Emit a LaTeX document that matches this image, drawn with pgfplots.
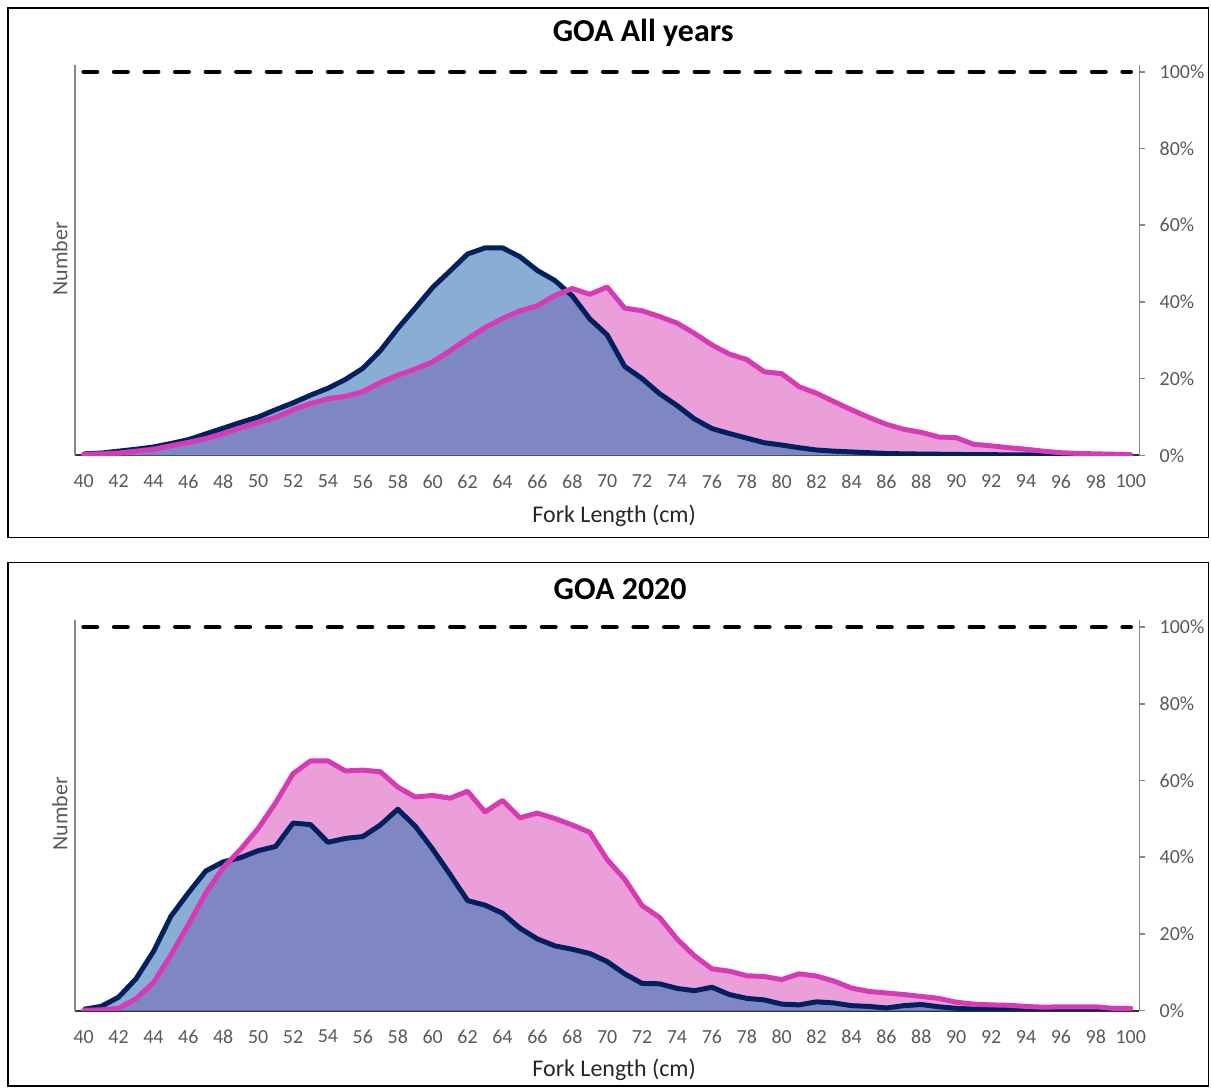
\documentclass[border=0pt]{standalone}
\usepackage{fontspec}
\setmainfont{Carlito}
\usepackage{pgfplots}
\usepackage{pgfplotstable}
\pgfplotsset{compat=1.18}
\usepgfplotslibrary{fillbetween}

\definecolor{navyL}{HTML}{002060}
\definecolor{magL}{HTML}{D63BB5}
\definecolor{blueA}{HTML}{8AADD3}
\definecolor{pinkA}{HTML}{EA9FD9}
\definecolor{ovA}{HTML}{7F86C4}
\definecolor{tickgray}{HTML}{595959}
\definecolor{axgray}{HTML}{868686}

\pgfplotstableread{
x n p
40 0.4 0.3
41 0.6 0.4
42 1.1 0.6
43 1.6 1.1
44 2.2 1.6
45 3.1 2.5
46 4.1 3.4
47 5.6 4.4
48 7.1 5.7
49 8.6 7.2
50 10.0 8.6
51 11.9 9.9
52 13.7 11.9
53 15.7 13.5
54 17.5 14.8
55 19.8 15.4
56 22.7 16.6
57 27.3 19.0
58 33.1 20.9
59 38.4 22.5
60 43.8 24.4
61 48.1 27.3
62 52.5 30.4
63 54.1 33.3
64 54.1 35.7
65 51.8 37.7
66 48.2 39.0
67 45.6 41.7
68 41.6 43.5
69 35.6 42.0
70 31.4 43.9
71 23.2 38.4
72 20.0 37.7
73 16.1 36.2
74 13.0 34.5
75 9.5 31.8
76 7.0 28.8
77 5.7 26.4
78 4.5 25.0
79 3.3 21.8
80 2.7 21.3
81 2.0 17.9
82 1.4 16.2
83 1.1 14.0
84 0.9 11.9
85 0.7 9.9
86 0.5 8.1
87 0.4 6.8
88 0.35 6.0
89 0.3 4.8
90 0.25 4.6
91 0.2 2.9
92 0.18 2.5
93 0.15 2.0
94 0.12 1.6
95 0.1 1.1
96 0.1 0.7
97 0.08 0.5
98 0.07 0.4
99 0.06 0.3
100 0.05 0.2
}\topdata

\pgfplotstableread{
x n p
40 0.35 0.1
41 1.1 0.2
42 3.5 0.6
43 8.3 3.1
44 15.4 7.3
45 24.6 14.5
46 30.7 22.4
47 36.4 30.7
48 38.8 37.3
49 39.9 42.1
50 41.7 47.5
51 42.8 54.2
52 48.9 61.8
53 48.5 65.1
54 43.9 65.1
55 44.9 62.5
56 45.4 62.7
57 48.4 62.3
58 52.5 58.3
59 48.1 55.7
60 42.1 56.1
61 35.5 55.4
62 28.7 57.2
63 27.5 51.8
64 25.4 54.8
65 21.5 50.3
66 18.7 51.5
67 16.9 50.1
68 16.0 48.4
69 14.9 46.5
70 12.8 39.4
71 9.6 34.3
72 7.1 27.4
73 7.0 24.3
74 5.8 18.7
75 5.2 14.3
76 6.1 10.9
77 4.2 10.3
78 3.2 9.1
79 2.8 8.9
80 1.7 8.1
81 1.5 9.6
82 2.3 9.0
83 2.0 7.7
84 1.3 5.9
85 1.1 5.0
86 0.7 4.6
87 1.3 4.2
88 1.6 3.7
89 1.0 3.2
90 0.6 2.2
91 0.4 1.7
92 0.3 1.5
93 0.3 1.4
94 0.2 1.1
95 0.2 0.9
96 0.05 1.0
97 0.05 1.0
98 0.05 1.0
99 0.1 0.6
100 0.2 0.6
}\botdata

\pgfplotsset{
  panel/.style={
    scale only axis, width=533pt, height=195.5pt,
    xmin=39.5, xmax=100.5, ymin=0, ymax=101.8,
    /pgf/number format/assume math mode=true,
    tick label style={font=\fontsize{10}{12}\selectfont, text=tickgray},
  },
  leftax/.style={
    panel,
    axis y line*=left, axis x line*=bottom,
    ytick=\empty,
    xtick={40,42,...,100},
    major tick length=0pt,
    xticklabel style={anchor=center, yshift=-13pt},
    y axis line style={draw=axgray, line width=0.75pt},
    x axis line style={draw=black!80, line width=0.9pt},
  },
  rightax/.style={
    panel,
    axis x line=none, axis y line*=right,
    ytick={0,20,...,100},
    yticklabel={\pgfmathprintnumber{\tick}\%},
    tick align=outside, major tick length=2.6pt,
    tick style={draw=axgray, line width=0.75pt},
    y axis line style={draw=axgray, line width=0.75pt},
    yticklabel style={anchor=west, xshift=4pt},
    clip=false,
  },
}

\begin{document}
\begin{tikzpicture}
\path (0,0) rectangle (605.5pt,-544pt);
\draw[line width=0.75pt] (4pt,-4pt) rectangle (605pt,-269pt);
\draw[line width=0.75pt] (4pt,-281.5pt) rectangle (605pt,-543.6pt);

% ---------- top panel ----------
\begin{axis}[leftax, at={(37.5pt,-228pt)}, anchor=south west]
\addplot[name path=baseT, draw=none] coordinates {(40,0) (100,0)};
\addplot[name path=navyT, draw=none] table[x=x,y=n]{\topdata};
\addplot[name path=pinkT, draw=none] table[x=x,y=p]{\topdata};
\addplot[fill=ovA, draw=none] fill between[of=navyT and baseT];
\addplot[fill=blueA, draw=none] fill between[of=navyT and pinkT, soft clip={domain=39:67.67}];
\addplot[fill=pinkA, draw=none] fill between[of=navyT and pinkT, soft clip={domain=67.67:101}];
\addplot[navyL, line width=2.5pt, line join=round] table[x=x,y=n]{\topdata};
\addplot[magL, line width=2.5pt, line join=round, line cap=round] table[x=x,y=p]{\topdata};
\end{axis}
\begin{axis}[rightax, at={(37.5pt,-228pt)}, anchor=south west]
\addplot[black, line width=2.3pt, dash pattern=on 6.7pt off 8.6pt, line cap=round] coordinates {(40,100) (100,100)};
\end{axis}

% ---------- bottom panel ----------
\begin{axis}[leftax, at={(37.5pt,-506pt)}, anchor=south west]
\addplot[name path=baseB, draw=none] coordinates {(40,0) (100,0)};
\addplot[name path=navyB, draw=none] table[x=x,y=n]{\botdata};
\addplot[name path=pinkB, draw=none] table[x=x,y=p]{\botdata};
\addplot[fill=ovA, draw=none] fill between[of=navyB and baseB];
\addplot[fill=blueA, draw=none] fill between[of=navyB and pinkB, soft clip={domain=39:48.41}];
\addplot[fill=pinkA, draw=none] fill between[of=navyB and pinkB, soft clip={domain=48.41:101}];
\addplot[navyL, line width=2.5pt, line join=round] table[x=x,y=n]{\botdata};
\addplot[magL, line width=2.5pt, line join=round, line cap=round] table[x=x,y=p]{\botdata};
\end{axis}
\begin{axis}[rightax, at={(37.5pt,-506pt)}, anchor=south west]
\addplot[black, line width=2.3pt, dash pattern=on 6.7pt off 8.6pt, line cap=round] coordinates {(40,100) (100,100)};
\end{axis}

% ---------- titles and labels ----------
\node[font=\fontsize{16}{19}\selectfont\bfseries] at (322pt,-16.5pt) {GOA All years};
\node[font=\fontsize{16}{19}\selectfont\bfseries] at (310.5pt,-295pt) {GOA 2020};
\node[font=\fontsize{12}{14}\selectfont, text=black!85] at (307.5pt,-258pt) {Fork Length (cm)};
\node[font=\fontsize{12}{14}\selectfont, text=black!85] at (307.5pt,-535.5pt) {Fork Length (cm)};
\node[font=\fontsize{11}{13}\selectfont, text=tickgray, rotate=90] at (30pt,-129.5pt) {Number};
\node[font=\fontsize{11}{13}\selectfont, text=tickgray, rotate=90] at (30pt,-407.5pt) {Number};
\end{tikzpicture}
\end{document}
